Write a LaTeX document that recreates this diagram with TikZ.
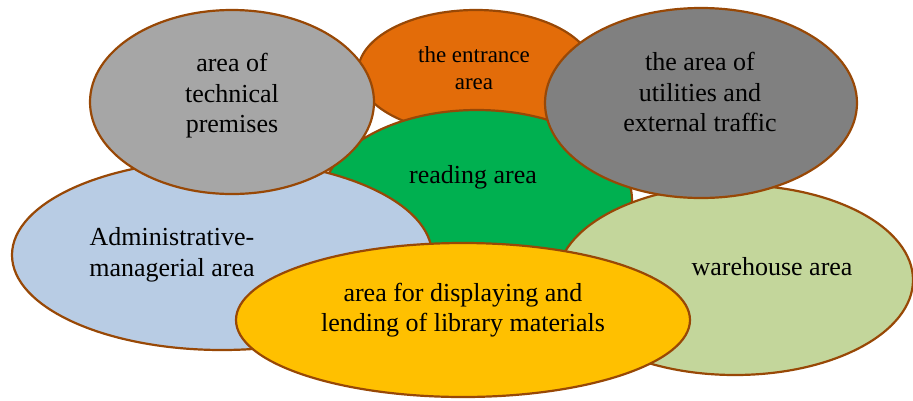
\documentclass[tikz,border=0pt]{standalone}
\usepackage{fontspec}
\setmainfont{Liberation Serif}
\usetikzlibrary{shapes.geometric}
\definecolor{cEntr}{HTML}{E36C09}
\definecolor{cRead}{HTML}{00B050}
\definecolor{cAdm}{HTML}{B8CCE4}
\definecolor{cWare}{HTML}{C3D69B}
\definecolor{cTech}{HTML}{A6A6A6}
\definecolor{cUtil}{HTML}{808080}
\definecolor{cDisp}{HTML}{FFC000}
\definecolor{cBord}{HTML}{984806}
\tikzset{
  zone/.style={ellipse, draw=cBord, line width=2.2pt, inner sep=0pt},
  lbl/.style={align=center, font=\fontsize{26}{30.5}\selectfont, inner sep=0pt},
  lblsmall/.style={align=center, font=\fontsize{23}{27}\selectfont, inner sep=0pt},
}
\begin{document}
\begin{tikzpicture}[x=1pt,y=-1pt]
\useasboundingbox (0,0) rectangle (913,400);
\node[zone, fill=cEntr, minimum width=236, minimum height=124] (entr) at (476,72) {};
\node[zone, fill=cRead, minimum width=310, minimum height=180] (read) at (477,200) {};
\node[zone, fill=cAdm, minimum width=420, minimum height=190] (adm) at (222,255) {};
\node[zone, fill=cWare, minimum width=356, minimum height=190] (ware) at (735,280) {};
\node[zone, fill=cTech, minimum width=284, minimum height=184] (tech) at (232,102) {};
\node[zone, fill=cUtil, minimum width=312, minimum height=190] (util) at (701,103) {};
\node[zone, fill=cDisp, minimum width=454, minimum height=154] (disp) at (463,320) {};

\node[lblsmall] (tEntr) at (474,68) {the entrance\\area};
\node[lbl] (tRead) at (473,177) {reading area};
\node[lbl] (tAdm) at (172,255) {Administrative-\\managerial area};
\node[lbl] (tWare) at (772,267) {warehouse area};
\node[lbl] (tTech) at (232,96) {area of\\technical\\premises};
\node[lbl] (tUtil) at (700,92) {the area of\\utilities and\\external traffic};
\node[lbl] (tDisp) at (463,310) {area for displaying and\\lending of library materials};
\end{tikzpicture}
\end{document}
